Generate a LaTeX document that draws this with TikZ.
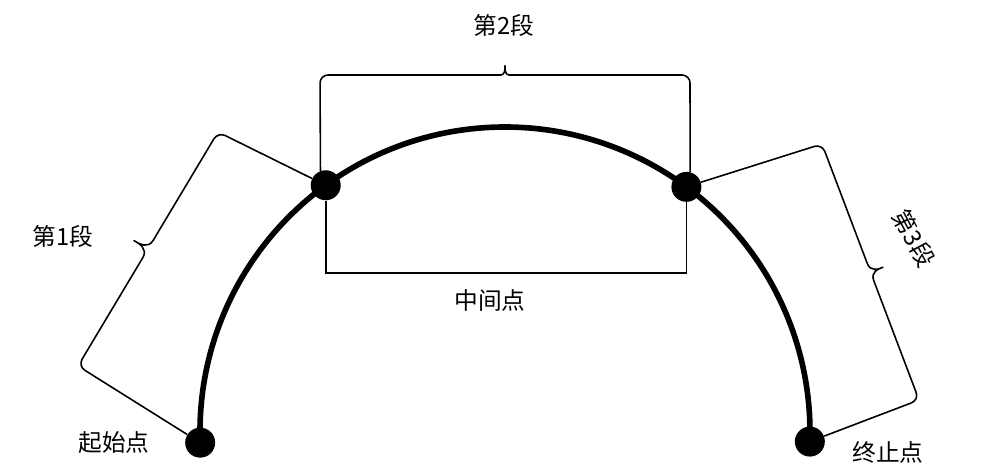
\documentclass[tikz,border=0pt]{standalone}
\usepackage{fontspec}
\newfontfamily\cjk{Noto Sans CJK SC}
\usetikzlibrary{calc}

% leg - corner - spine with tip - corner - leg
\newcommand{\legbrace}[6]{%
  \coordinate (m) at ($(#2)!.5!(#3)$);
  \coordinate (tip) at ($(m)!#5!90:(#3)$);
  \coordinate (tl) at ($(m)!#6!(#2)$);
  \coordinate (tr) at ($(m)!#6!(#3)$);
  \draw[bracketline] (#1) -- (#2) -- (tl) .. controls (m) and ($(m)!.5!(tip)$) .. (tip)
    .. controls ($(m)!.5!(tip)$) and (m) .. (tr) -- (#3) -- (#4);
}

\begin{document}
\begin{tikzpicture}[x=0.02cm, y=0.02cm,
  every node/.style={font=\cjk\fontsize{13.5}{16}\selectfont},
  pointdot/.style={circle, fill=black, inner sep=0pt, minimum size=0.6cm},
  thinline/.style={line width=0.9pt},
  bracketline/.style={line width=0.9pt, rounded corners=0.16cm, line join=round},
  arcline/.style={line width=3.2pt}]
\useasboundingbox (0,0) rectangle (988,474);
\coordinate (o) at (505,42);
\draw[arcline] ($(o)+(182:305)$) arc[start angle=182, end angle=-1.8, radius=305];
\node[pointdot] (s) at ($(o)+(182:305)$) {};
\node[pointdot] (p1) at ($(o)+(126:305)$) {};
\node[pointdot] (p2) at ($(o)+(53.5:305)$) {};
\node[pointdot] (e) at ($(o)+(-1.8:305)$) {};
% brackets
\coordinate (l1) at (78,108);
\coordinate (l2) at (218,342);
\coordinate (t1) at (320,399);
\coordinate (t2) at (690,399);
\coordinate (r1) at (822,330);
\coordinate (r2) at (919,74);
\legbrace{s}{l1}{l2}{p1}{0.42cm}{0.36cm}
\legbrace{p1.110}{t1}{t2}{p2.76}{0.28cm}{0.24cm}
\legbrace{p2}{r1}{r2}{e}{0.36cm}{0.34cm}
% middle box
\coordinate (low) at (0,201);
\draw[thinline] (p1) -- (p1 |- low) -- (p2 |- low) -- (p2);
% labels
\node (seg2) at (504,449) {第2段};
\node (seg1) at (63,238) {第1段};
\node[rotate=-62, inner sep=1pt] (seg3) at (914,236) {第3段};
\node (mid) at (490,174) {中间点};
\node (start) at (114,31) {起始点};
\node (end) at (888,22) {终止点};
\end{tikzpicture}
\end{document}
